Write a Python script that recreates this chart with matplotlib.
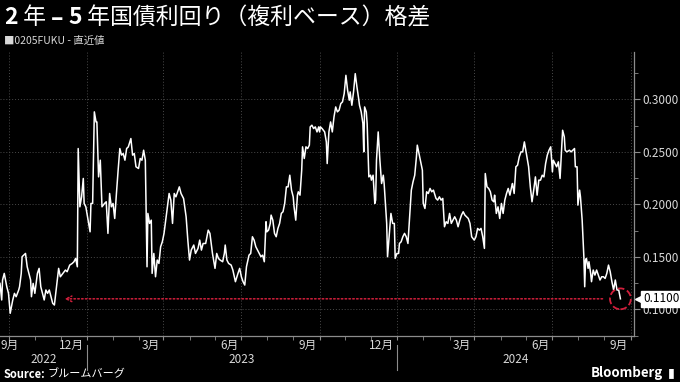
import numpy as np
import pandas as pd
import matplotlib
matplotlib.use('Agg')
import matplotlib.pyplot as plt
import matplotlib.dates as mdates
from matplotlib import transforms
from matplotlib.ticker import MultipleLocator, FormatStrFormatter

plt.rcParams['font.family'] = ['Noto Sans CJK JP', 'DejaVu Sans']

# 2y - 5y JGB spread
dates = [
  '2022-08-21','2022-08-23','2022-08-24','2022-08-26','2022-08-29','2022-08-31','2022-09-02','2022-09-05',
  '2022-09-07','2022-09-09','2022-09-12','2022-09-13','2022-09-15','2022-09-16','2022-09-20','2022-09-22',
  '2022-09-26','2022-09-27','2022-09-29','2022-10-01','2022-10-04','2022-10-06','2022-10-08','2022-10-10',
  '2022-10-12','2022-10-14','2022-10-16','2022-10-18','2022-10-20','2022-10-22','2022-10-24','2022-10-26',
  '2022-10-29','2022-10-31','2022-11-03','2022-11-06','2022-11-08','2022-11-11','2022-11-14','2022-11-16',
  '2022-11-18','2022-11-20','2022-11-21','2022-11-23','2022-11-25','2022-11-27','2022-11-28','2022-11-30',
  '2022-12-02','2022-12-05','2022-12-06','2022-12-08','2022-12-10','2022-12-12','2022-12-13','2022-12-15',
  '2022-12-17','2022-12-19','2022-12-22','2022-12-24','2022-12-26','2022-12-28','2022-12-30','2023-01-01',
  '2023-01-03','2023-01-05','2023-01-07','2023-01-09','2023-01-11','2023-01-13','2023-01-15','2023-01-17',
  '2023-01-19','2023-01-22','2023-01-24','2023-01-26','2023-01-28','2023-01-31','2023-02-02','2023-02-04',
  '2023-02-06','2023-02-08','2023-02-10','2023-02-11','2023-02-13','2023-02-15','2023-02-16','2023-02-18',
  '2023-02-20','2023-02-22','2023-02-24','2023-02-26','2023-02-28','2023-03-02','2023-03-04','2023-03-06',
  '2023-03-08','2023-03-10','2023-03-12','2023-03-14','2023-03-16','2023-03-18','2023-03-20','2023-03-22',
  '2023-03-25','2023-03-28','2023-03-30','2023-04-01','2023-04-03','2023-04-06','2023-04-08','2023-04-11',
  '2023-04-13','2023-04-15','2023-04-17','2023-04-20','2023-04-23','2023-04-25','2023-04-28','2023-04-30',
  '2023-05-01','2023-05-03','2023-05-05','2023-05-07','2023-05-10','2023-05-12','2023-05-13','2023-05-15',
  '2023-05-17','2023-05-20','2023-05-22','2023-05-25','2023-05-28','2023-05-30','2023-06-01','2023-06-03',
  '2023-06-05','2023-06-07','2023-06-10','2023-06-12','2023-06-14','2023-06-16','2023-06-18','2023-06-20',
  '2023-06-22','2023-06-24','2023-06-26','2023-06-28','2023-06-30','2023-07-01','2023-07-03','2023-07-05',
  '2023-07-06','2023-07-08','2023-07-10','2023-07-12','2023-07-14','2023-07-16','2023-07-18','2023-07-20',
  '2023-07-22','2023-07-24','2023-07-26','2023-07-28','2023-07-30','2023-08-01','2023-08-02','2023-08-04',
  '2023-08-06','2023-08-07','2023-08-09','2023-08-11','2023-08-12','2023-08-14','2023-08-16','2023-08-18',
  '2023-08-20','2023-08-21','2023-08-23','2023-08-25','2023-08-27','2023-08-29','2023-08-31','2023-09-01',
  '2023-09-02','2023-09-04','2023-09-07','2023-09-09','2023-09-10','2023-09-12','2023-09-14','2023-09-16',
  '2023-09-18','2023-09-20','2023-09-22','2023-09-24','2023-09-26','2023-09-28','2023-09-30','2023-10-02',
  '2023-10-04','2023-10-06','2023-10-07','2023-10-09','2023-10-11','2023-10-13','2023-10-15','2023-10-17',
  '2023-10-18','2023-10-20','2023-10-22','2023-10-23','2023-10-24','2023-10-26','2023-10-27','2023-10-29',
  '2023-10-31','2023-11-01','2023-11-03','2023-11-05','2023-11-06','2023-11-07','2023-11-09','2023-11-11',
  '2023-11-13','2023-11-15','2023-11-16','2023-11-19','2023-11-20','2023-11-22','2023-11-24','2023-11-26',
  '2023-11-28','2023-11-29','2023-12-01','2023-12-03','2023-12-04','2023-12-06','2023-12-08','2023-12-10',
  '2023-12-12','2023-12-14','2023-12-16','2023-12-18','2023-12-20','2023-12-22','2023-12-24','2023-12-25',
  '2023-12-27','2023-12-29','2023-12-31','2024-01-01','2024-01-03','2024-01-05','2024-01-07','2024-01-09',
  '2024-01-11','2024-01-13','2024-01-16','2024-01-18','2024-01-20','2024-01-22','2024-01-24','2024-01-26',
  '2024-01-28','2024-01-30','2024-02-01','2024-02-03','2024-02-05','2024-02-07','2024-02-09','2024-02-11',
  '2024-02-13','2024-02-15','2024-02-17','2024-02-19','2024-02-21','2024-02-23','2024-02-25','2024-02-27',
  '2024-03-01','2024-03-03','2024-03-05','2024-03-07','2024-03-09','2024-03-11','2024-03-13','2024-03-14',
  '2024-03-16','2024-03-18','2024-03-20','2024-03-22','2024-03-24','2024-03-25','2024-03-27','2024-03-29',
  '2024-03-31','2024-04-02','2024-04-04','2024-04-06','2024-04-08','2024-04-10','2024-04-12','2024-04-14',
  '2024-04-15','2024-04-17','2024-04-19','2024-04-21','2024-04-23','2024-04-25','2024-04-27','2024-04-29',
  '2024-04-30','2024-05-02','2024-05-04','2024-05-06','2024-05-08','2024-05-10','2024-05-12','2024-05-14',
  '2024-05-16','2024-05-18','2024-05-20','2024-05-22','2024-05-24','2024-05-26','2024-05-28','2024-05-30',
  '2024-06-01','2024-06-02','2024-06-04','2024-06-06','2024-06-08','2024-06-10','2024-06-12','2024-06-13',
  '2024-06-15','2024-06-16','2024-06-18','2024-06-21','2024-06-23','2024-06-25','2024-06-27','2024-06-28',
  '2024-06-30','2024-07-01','2024-07-03','2024-07-04','2024-07-06','2024-07-08','2024-07-09','2024-07-10',
  '2024-07-11','2024-07-13','2024-07-14','2024-07-16','2024-07-17','2024-07-19','2024-07-21','2024-07-23',
  '2024-07-25','2024-07-27','2024-07-29','2024-07-31','2024-08-02','2024-08-04','2024-08-06','2024-08-08',
  '2024-08-10','2024-08-12','2024-08-14','2024-08-16','2024-08-18','2024-08-20',
]
spread = [
  .1247,.1089,.1279,.1342,.1215,.1152,.0962,.1089,
  .1152,.1120,.1184,.1215,.1342,.1501,.1532,.1405,
  .1279,.1120,.1247,.1152,.1342,.1390,.1215,.1152,
  .1089,.1184,.1152,.1184,.1120,.1057,.1041,.1184,
  .1390,.1310,.1342,.1374,.1358,.1421,.1437,.1453,
  .1485,.1405,.2531,.1976,.2071,.2246,.2008,.1976,
  .1881,.1738,.2008,.2008,.2880,.2784,.2784,.2261,
  .2420,.1976,.2008,.2024,.1723,.2103,.1976,.2008,
  .1865,.2103,.2325,.2531,.2468,.2483,.2420,.2531,
  .2547,.2626,.2468,.2483,.2357,.2341,.2436,.2420,
  .2515,.2420,.1405,.1913,.1818,.1849,.1342,.1532,
  .1310,.1469,.1437,.1596,.1643,.1723,.1849,.1976,
  .2103,.2040,.1818,.2103,.2071,.2119,.2166,.2103,
  .2055,.1881,.1659,.1469,.1564,.1612,.1532,.1580,
  .1659,.1564,.1627,.1627,.1754,.1723,.1532,.1437,
  .1390,.1532,.1485,.1469,.1453,.1532,.1612,.1469,
  .1437,.1421,.1374,.1263,.1342,.1390,.1310,.1263,
  .1231,.1405,.1516,.1532,.1691,.1659,.1596,.1564,
  .1532,.1501,.1516,.1453,.1834,.1738,.1754,.1818,
  .1897,.1849,.1723,.1691,.1770,.1818,.1913,.1929,
  .2008,.2166,.2166,.2277,.2135,.2071,.1976,.1849,
  .2087,.2119,.2087,.2325,.2547,.2436,.2547,.2531,
  .2563,.2737,.2753,.2721,.2737,.2689,.2737,.2689,
  .2737,.2721,.2689,.2594,.2388,.2689,.2784,.2689,
  .2832,.2927,.2880,.2896,.2959,.2975,.3054,.3228,
  .3086,.2991,.3070,.2943,.3070,.3244,.3117,.3006,
  .2943,.2880,.2769,.2499,.2927,.2880,.2769,.2261,
  .2277,.2230,.2277,.2008,.2040,.2420,.2689,.2420,
  .2198,.2277,.2198,.1818,.1501,.1707,.1913,.1818,
  .1818,.1485,.1532,.1532,.1627,.1643,.1691,.1723,
  .1691,.1627,.1881,.2135,.2214,.2277,.2452,.2563,
  .2483,.2404,.2325,.2008,.1960,.2119,.2103,.2151,
  .2119,.2135,.2056,.2040,.2071,.2040,.2056,.1786,
  .1834,.1818,.1913,.1818,.1849,.1881,.1849,.1786,
  .1849,.1897,.1929,.1897,.1881,.1865,.1818,.1691,
  .1659,.1691,.1770,.1754,.1770,.1691,.1580,.2293,
  .2166,.2151,.2119,.2040,.2024,.2087,.1913,.1976,
  .1865,.2008,.1913,.2040,.2103,.2151,.2087,.2166,
  .2198,.2103,.2357,.2372,.2452,.2499,.2499,.2594,
  .2547,.2452,.2357,.2166,.2024,.2135,.2261,.2087,
  .2230,.2230,.2277,.2261,.2388,.2468,.2515,.2547,
  .2309,.2420,.2388,.2357,.2404,.2246,.2547,.2705,
  .2642,.2515,.2499,.2515,.2499,.2515,.2531,.2357,
  .2357,.1992,.2135,.2071,.1849,.1501,.1215,.1469,
  .1485,.1390,.1453,.1342,.1263,.1374,.1326,.1374,
  .1326,.1279,.1310,.1310,.1294,.1342,.1421,.1358,
  .1263,.1184,.1279,.1184,.1184,.1100,
]

# title pieces: (text, bold)
title_parts = [('2', True), (' 年 ', False), ('–', True), (' ', False), ('5', True),
               (' 年国債利回り（複利ベース）格差', False)]
subtitle = '■0205FUKU - 直近値'
source = 'ブルームバーグ'
quarter_ticks = ['2022-09-01','2022-12-01','2023-03-01','2023-06-01','2023-09-01',
                 '2023-12-01','2024-03-01','2024-06-01','2024-09-01']
quarter_labels = ['9月','12月','3月','6月','9月','12月','3月','6月','9月']
year_labels = ['2022','2023','2024']
year_breaks = ['2022-12-01','2023-12-01']
x_start, x_end = '2022-08-21', '2024-09-05'
# red arrow: "lowest since" annotation
arrow_from, arrow_to = '2024-07-30', '2022-11-05'

BG = '#000000'
GRID = '#4a4a4a'
AXIS = '#8c8c8c'
TXT = '#d8d8d8'
RED = '#d21f3c'

d = pd.to_datetime(dates)
qt = pd.to_datetime(quarter_ticks)
x0, x1 = pd.Timestamp(x_start), pd.Timestamp(x_end)

fig = plt.figure(figsize=(6.8, 3.82), dpi=100, facecolor=BG)
ax = fig.add_axes([0, 1 - 336/382, 634/680, (336 - 52)/382], facecolor=BG)

ax.plot(d, spread, color='white', lw=1.1, zorder=3)
ax.set_xlim(x0, x1)
ax.set_ylim(0.0746, 0.345)

# y axis on the right
ax.yaxis.tick_right()
ax.yaxis.set_major_locator(MultipleLocator(0.05))
ax.yaxis.set_minor_locator(MultipleLocator(0.025))
ax.yaxis.set_major_formatter(FormatStrFormatter('%.4f'))
ax.tick_params(axis='y', which='major', colors=AXIS, labelcolor=TXT, labelsize=8.5, length=4, pad=2)
ax.tick_params(axis='y', which='minor', colors=AXIS, length=3)

# x axis: monthly ticks, quarterly gridlines, labels drawn by hand
ax.xaxis.set_major_locator(mdates.MonthLocator(bymonth=[3, 6, 9, 12]))
ax.xaxis.set_minor_locator(mdates.MonthLocator())
ax.tick_params(axis='x', which='both', colors=AXIS, length=3, labelbottom=False)

ax.grid(True, which='major', color=GRID, linestyle=(0, (1, 2)), lw=0.7)
for s in ['top', 'left']:
    ax.spines[s].set_visible(False)
for s in ['bottom', 'right']:
    ax.spines[s].set_color(AXIS)
    ax.spines[s].set_linewidth(0.9)

xt = ax.get_xaxis_transform()
lab_tr = transforms.offset_copy(xt, fig=fig, x=-3, y=0, units='dots')
for i, (t, lab) in enumerate(zip(qt, quarter_labels)):
    if i == 0:
        ax.text(x0, -0.032, lab, transform=xt, ha='left', va='center', color=TXT, fontsize=8.5)
    else:
        ax.text(t, -0.032, lab, transform=lab_tr, ha='right', va='center', color=TXT, fontsize=8.5)

edges = [x0] + list(pd.to_datetime(year_breaks)) + [x1]
for i, lab in enumerate(year_labels):
    mid = edges[i] + (edges[i + 1] - edges[i]) / 2
    ax.text(mid, -0.082, lab, transform=xt, ha='center', va='center', color=TXT, fontsize=8.5)
for b in pd.to_datetime(year_breaks):
    ax.plot([b, b], [-0.03, -0.12], transform=xt, color=AXIS, lw=0.8, clip_on=False)

# latest value: circle, arrow and tag
last_d, last_v = d[-1], spread[-1]
ax.scatter([last_d], [last_v], s=15**2, facecolors='none', edgecolors=RED,
           linestyles='--', linewidths=1.3, zorder=4)
ax.annotate('', xy=(pd.Timestamp(arrow_to), last_v), xytext=(pd.Timestamp(arrow_from), last_v),
            arrowprops=dict(arrowstyle='->', color=RED, lw=1.1, linestyle=(0, (1, 1.5)),
                            shrinkA=0, shrinkB=0), zorder=4)
yt = transforms.blended_transform_factory(ax.transAxes, ax.transData)
tag_tr = transforms.offset_copy(yt, fig=fig, x=9, y=0, units='dots')
ax.text(1.0, last_v, '%.4f' % last_v, transform=tag_tr, ha='left', va='center', fontsize=8.5,
        color='black', bbox=dict(boxstyle='square,pad=0.15', fc='white', ec='white'), zorder=6)
ax.plot([1.0], [last_v], marker='<', ms=6, color='white', transform=transforms.offset_copy(
    yt, fig=fig, x=5, y=0, units='dots'), clip_on=False, zorder=6)

# title, laid out piece by piece
renderer = fig.canvas.get_renderer()
tx = 4
for txt, bold in title_parts:
    t = fig.text(tx/680, 1 - 18/382, txt, color='white', fontsize=16.5, ha='left', va='center',
                 fontweight='bold' if bold else 'normal')
    tx += t.get_window_extent(renderer).width

fig.text(4/680, 1 - 41/382, subtitle, color=TXT, fontsize=7.5, ha='left', va='center')
fig.text(4/680, 1 - 374/382, 'Source:', color='white', fontsize=8, fontweight='bold',
         ha='left', va='center')
fig.text(48/680, 1 - 374/382, source, color='white', fontsize=8, ha='left', va='center')
fig.text(663/680, 1 - 373/382, 'Bloomberg', color='white', fontsize=9.5, fontweight='bold',
         ha='right', va='center')
fig.text(671/680, 1 - 373/382, '▮', color='white', fontsize=9, ha='center', va='center')

fig.savefig('out.png', dpi=100, facecolor=BG)
